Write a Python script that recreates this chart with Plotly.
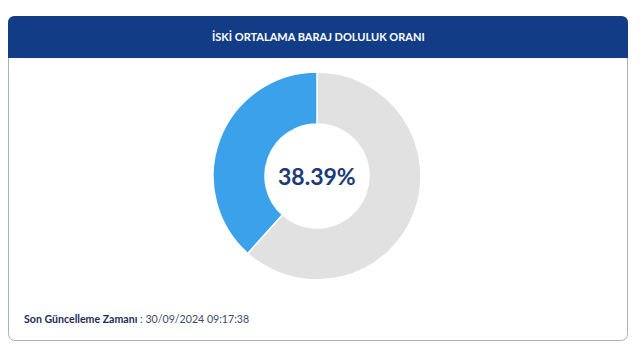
import plotly.graph_objects as go

labels = ["Boş", "Doluluk"]
values = [61.61, 38.39]
colors = ["#e1e1e1", "#3ba1ea"]
title_text = "İSKİ ORTALAMA BARAJ DOLULUK ORANI"
center_text = "38.39%"
footer_label = "Son Güncelleme Zamanı"
footer_value = "30/09/2024 09:17:38"

W, H = 640, 354

def px(x):
    return x / W

def py(y):
    return 1 - y / H

def rrect(x0, y0, x1, y1, r, top=True, bottom=True):
    rt = r if top else 0
    rb = r if bottom else 0
    p = f"M {px(x0+rt)},{py(y0)} L {px(x1-rt)},{py(y0)} "
    p += f"Q {px(x1)},{py(y0)} {px(x1)},{py(y0+rt)} "
    p += f"L {px(x1)},{py(y1-rb)} Q {px(x1)},{py(y1)} {px(x1-rb)},{py(y1)} "
    p += f"L {px(x0+rb)},{py(y1)} Q {px(x0)},{py(y1)} {px(x0)},{py(y1-rb)} "
    p += f"L {px(x0)},{py(y0+rt)} Q {px(x0)},{py(y0)} {px(x0+rt)},{py(y0)} Z"
    return p

cx, cy, R = 317, 176, 104

fig = go.Figure(go.Pie(
    labels=labels, values=values, hole=0.5, sort=False,
    direction="counterclockwise", rotation=0,
    marker=dict(colors=colors, line=dict(color="white", width=1.5)),
    textinfo="none", hoverinfo="label+percent", showlegend=False,
    domain=dict(x=[px(cx - R), px(cx + R)], y=[py(cy + R), py(cy - R)]),
))

fig.update_layout(
    width=W, height=H, margin=dict(l=0, r=0, t=0, b=0),
    paper_bgcolor="white", plot_bgcolor="white",
    shapes=[
        dict(type="path", xref="paper", yref="paper",
             path=rrect(8.5, 16.5, 627.5, 340.5, 7),
             line=dict(color="#a7b0c4", width=1), fillcolor="white", layer="below"),
        dict(type="path", xref="paper", yref="paper",
             path=rrect(8, 16, 628, 58, 7, top=True, bottom=False),
             line=dict(width=0), fillcolor="#123d86", layer="below"),
    ],
    annotations=[
        dict(text=f"<b>{title_text}</b>", x=px(318), y=py(37), xref="paper", yref="paper",
             showarrow=False, font=dict(family="Lato, sans-serif", size=11, color="white"),
             xanchor="center", yanchor="middle"),
        dict(text=f"<b>{center_text}</b>", x=px(cx), y=py(cy), xref="paper", yref="paper",
             showarrow=False, font=dict(family="Lato, sans-serif", size=23, color="#1a3a78"),
             xanchor="center", yanchor="middle"),
        dict(text=f"<b>{footer_label}</b><span style='color:#3d4b6b'> : {footer_value}</span>",
             x=px(22), y=py(319),
             xref="paper", yref="paper", showarrow=False,
             font=dict(family="Lato, sans-serif", size=10.6, color="#1c2c5a"),
             xanchor="left", yanchor="middle"),
    ],
)

fig.write_html("out.html")
